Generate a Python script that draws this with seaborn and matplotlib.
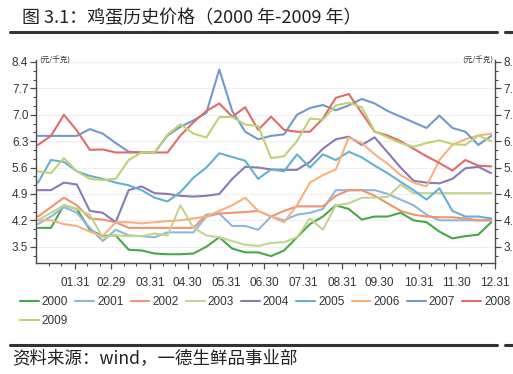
import numpy as np
import pandas as pd
import seaborn as sns
import matplotlib.pyplot as plt
from matplotlib.lines import Line2D

# egg prices, one reading per ten days (yuan/kg)
years = ['2000', '2001', '2002', '2003', '2004', '2005', '2006', '2007', '2008', '2009']
colors = ['#46a846', '#8fb6df', '#ee9472', '#c2d48e', '#8a79b9',
          '#63b1d2', '#f6b27e', '#6f9acb', '#e06b6b', '#bfd273']

p2000 = [4.0, 4.0, 4.6, 4.5, 3.95, 3.78, 3.8, 3.42, 3.4, 3.32, 3.3, 3.3, 3.32, 3.5, 3.75, 3.45, 3.35, 3.35,
         3.25, 3.4, 3.75, 4.1, 4.3, 4.6, 4.5, 4.22, 4.3, 4.3, 4.4, 4.2, 4.15, 3.9, 3.72, 3.78, 3.82, 4.15]
p2001 = [4.1, 4.3, 4.55, 4.4, 4.0, 3.65, 3.95, 3.8, 3.78, 3.75, 3.88, 3.88, 3.88, 4.3, 4.38, 4.05, 4.05, 3.95,
         4.3, 4.2, 4.35, 4.4, 4.5, 5.0, 5.0, 5.0, 5.0, 4.9, 4.75, 4.6, 4.35, 4.2, 4.2, 4.2, 4.2, 4.2]
p2002 = [4.3, 4.55, 4.8, 4.6, 4.25, 4.22, 4.15, 4.0, 4.0, 4.0, 4.0, 4.0, 4.0, 4.35, 4.38, 4.4, 4.42, 4.45,
         4.3, 4.45, 4.57, 4.57, 4.57, 4.85, 5.0, 5.0, 4.85, 4.65, 4.45, 4.35, 4.3, 4.28, 4.28, 4.25, 4.2, 4.2]
p2003 = [4.2, 4.4, 4.6, 4.5, 4.35, 3.75, 3.8, 3.78, 3.78, 3.85, 3.8, 4.6, 4.0, 3.8, 3.75, 3.65, 3.55, 3.52,
         3.6, 3.62, 3.75, 4.25, 3.95, 4.6, 4.65, 4.8, 4.8, 4.82, 5.15, 4.92, 4.92, 4.92, 4.92, 4.92, 4.92, 4.92]
p2004 = [5.0, 5.0, 5.2, 5.15, 4.45, 4.4, 4.15, 5.0, 5.1, 4.92, 4.9, 4.85, 4.83, 4.85, 4.9, 5.3, 5.62, 5.6,
         5.55, 5.54, 5.54, 5.75, 6.1, 6.35, 6.42, 6.2, 6.4, 6.0, 5.6, 5.25, 5.2, 5.18, 5.3, 5.58, 5.62, 5.45]
p2005 = [5.2, 5.8, 5.75, 5.5, 5.38, 5.3, 5.2, 5.13, 5.0, 4.8, 4.7, 4.95, 5.33, 5.6, 5.98, 5.88, 5.78, 5.3,
         5.55, 5.5, 5.95, 5.6, 5.95, 5.8, 6.02, 5.87, 5.65, 5.45, 5.22, 5.0, 4.75, 5.05, 4.45, 4.3, 4.3, 4.25]
p2006 = [4.2, 4.2, 4.1, 4.05, 3.9, 3.78, 4.15, 4.15, 4.12, 4.15, 4.18, 4.2, 4.25, 4.3, 4.45, 4.6, 4.8, 4.45,
         4.3, 4.15, 4.6, 5.2, 5.4, 5.55, 6.4, 6.25, 5.95, 5.7, 5.4, 5.2, 5.1, 5.8, 6.2, 6.35, 6.45, 6.5]
p2007 = [6.44, 6.44, 6.44, 6.44, 6.62, 6.5, 6.25, 6.02, 6.0, 6.0, 6.45, 6.68, 6.85, 7.05, 8.2, 7.1, 6.55, 6.35,
         6.44, 6.48, 7.0, 7.18, 7.26, 7.12, 7.25, 7.42, 7.3, 7.1, 6.95, 6.8, 6.65, 6.98, 6.65, 6.55, 6.2, 6.44]
p2008 = [6.2, 6.44, 7.0, 6.58, 6.07, 6.08, 6.0, 6.0, 6.0, 6.0, 6.0, 6.45, 6.8, 7.1, 7.3, 6.95, 7.2, 6.6,
         6.95, 6.6, 6.55, 6.55, 6.9, 7.45, 7.55, 7.05, 6.55, 6.45, 6.3, 6.1, 5.9, 5.72, 5.52, 5.8, 5.65, 5.63]
p2009 = [5.5, 5.45, 5.85, 5.5, 5.3, 5.27, 5.3, 5.8, 6.0, 6.0, 6.47, 6.75, 6.5, 6.4, 6.94, 6.94, 6.74, 6.7,
         5.85, 5.9, 6.3, 6.9, 6.87, 7.25, 7.32, 7.2, 6.56, 6.4, 6.25, 6.15, 6.25, 6.32, 6.22, 6.2, 6.45, 6.3]
prices = [p2000, p2001, p2002, p2003, p2004, p2005, p2006, p2007, p2008, p2009]

days = np.linspace(1.6, 363, 36)   # day of year for each ten-day reading
month_ends = [31, 60, 91, 121, 152, 182, 213, 244, 274, 305, 335, 366]
month_labels = ['01.31', '02.29', '03.31', '04.30', '05.31', '06.30',
                '07.31', '08.31', '09.30', '10.31', '11.30', '12.31']
y_ticks = [3.5, 4.2, 4.9, 5.6, 6.3, 7.0, 7.7, 8.4]

rows = []
for yr, vals in zip(years, prices):
    for d, v in zip(days, vals):
        rows.append({'day': d, 'price': v, 'year': yr})
df = pd.DataFrame(rows)

sns.set_theme(style='white')
cjk = 'Noto Sans CJK SC'
plt.rcParams['font.family'] = ['Liberation Sans', cjk, 'DejaVu Sans']
tick_size = 8.5

fig = plt.figure(figsize=(5.13, 3.74), dpi=100)
ax = fig.add_axes([36/513, 1-263/374, 459/513, 203/374])

sns.lineplot(data=df, x='day', y='price', hue='year', palette=dict(zip(years, colors)),
             linewidth=1.5, ax=ax, legend=False)

ylo, yhi = 3.068, 8.453
minor_y = [3.5 + k*0.7/3 for k in range(-1, 23) if ylo <= 3.5 + k*0.7/3 <= yhi]
minor_x = [s + o for s in [0] + month_ends[:-1] for o in (10, 20)]

ax.set_xlim(0, 366)
ax.set_ylim(ylo, yhi)
ax.set_xlabel('')
ax.set_ylabel('')
ax.set_xticks(month_ends)
ax.set_xticklabels(month_labels)
ax.set_xticks(minor_x, minor=True)
ax.set_yticks(y_ticks)
ax.set_yticklabels([f'{v:.1f}' for v in y_ticks])
ax.set_yticks(minor_y, minor=True)
ax.yaxis.grid(True, color='#efefef', lw=0.8)
ax.set_axisbelow(True)

ax2 = ax.twinx()
ax2.set_ylim(ylo, yhi)
ax2.set_yticks(y_ticks)
ax2.set_yticklabels([f'{v:.1f}' for v in y_ticks])
ax2.set_yticks(minor_y, minor=True)

axis_col = '#4a4a4a'
for a in (ax, ax2):
    for s in a.spines.values():
        s.set_visible(False)
ax.spines['left'].set_visible(True)
ax.spines['bottom'].set_visible(True)
ax2.spines['right'].set_visible(True)
for s in (ax.spines['left'], ax.spines['bottom'], ax2.spines['right']):
    s.set_color(axis_col)
    s.set_linewidth(1.0)

ax.tick_params(axis='both', which='major', direction='out', length=4, width=0.9,
               color=axis_col, labelsize=tick_size, labelcolor='#333333')
ax.tick_params(axis='both', which='minor', direction='out', length=2.5, width=0.8, color=axis_col)
ax.tick_params(axis='y', which='both', left=True, pad=1.5)
ax.tick_params(axis='x', which='both', bottom=True, pad=6)
ax2.tick_params(axis='y', which='major', direction='out', length=4, width=0.9, right=True,
                color=axis_col, labelsize=tick_size, labelcolor='#333333', pad=2)
ax2.tick_params(axis='y', which='minor', direction='out', length=2.5, width=0.8, right=True, color=axis_col)

unit_kw = dict(fontsize=5.5, color='#333333', family=[cjk, 'DejaVu Sans'], va='center', transform=fig.transFigure)
fig.text(39/513, 1-61/374, '(元/千克)', ha='left', **unit_kw)
fig.text(493/513, 1-61/374, '(元/千克)', ha='right', **unit_kw)

# legend: 2009 sits under 2000 (legend fills columns first)
handles = [Line2D([], [], color=c, lw=1.5) for c in colors]
order = [0, 9, 1, 2, 3, 4, 5, 6, 7, 8]
fig.legend([handles[i] for i in order], [years[i] for i in order], ncol=9,
           loc='upper left', bbox_to_anchor=(20/513, 1-296/374), bbox_transform=fig.transFigure,
           frameon=False, fontsize=tick_size, handlelength=1.6, handletextpad=0.25,
           columnspacing=0.6, borderpad=0, borderaxespad=0, labelspacing=0.6,
           labelcolor='#333333')

# title and source with their rules
fig.text(22/513, 1-17.5/374, '图 3.1：鸡蛋历史价格（2000 年-2009 年）', fontsize=13,
         family=[cjk, 'DejaVu Sans'], color='#222222', va='center', ha='left')
fig.text(12/513, 1-359/374, '资料来源：wind，一德生鲜品事业部', fontsize=12.6,
         family=[cjk, 'DejaVu Sans'], color='#222222', va='center', ha='left')
for yy in (32, 345):
    fig.add_artist(Line2D([10/513, 497/513], [1-yy/374]*2, color='#333333', lw=2.2,
                          transform=fig.transFigure))
    fig.add_artist(Line2D([505/513, 1.0], [1-yy/374]*2, color='#333333', lw=2.2,
                          transform=fig.transFigure))

fig.savefig('out.png', dpi=100)
